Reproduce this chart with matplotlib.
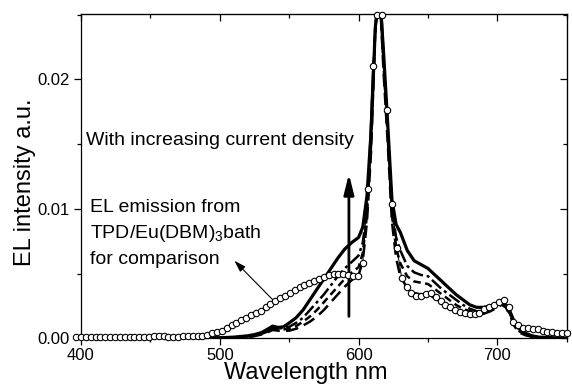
import numpy as np
import matplotlib
matplotlib.use("Agg")
import matplotlib.pyplot as plt
from matplotlib.ticker import MultipleLocator, FormatStrFormatter

plt.rcParams['font.family'] = ['Liberation Sans', 'DejaVu Sans']
plt.rcParams['mathtext.fontset'] = 'custom'
plt.rcParams['mathtext.rm'] = 'Liberation Sans'

# --- reference spectrum (open circles), intensity in units of 1e-3 ---
wl_ref = [396.5, 400, 403.5, 407, 410.5, 414, 417.5, 421, 424.5, 428,
          431.5, 435, 438.5, 442, 445.5, 449, 452.5, 456, 459.5, 463,
          466.5, 470, 473.5, 477, 480.5, 484, 487.5, 491, 494.5, 498,
          501.5, 505, 508.5, 512, 515.5, 519, 522.5, 526, 529.5, 533,
          536.5, 540, 543.5, 547, 550.5, 554, 557.5, 561, 564.5, 568,
          571.5, 575, 578.5, 582, 585.5, 589, 592.5, 596, 599.5, 603,
          606.5, 610, 613.5, 617, 620.5, 624, 627.5, 631, 634.5, 638,
          641.5, 645, 648.5, 652, 655.5, 659, 662.5, 666, 669.5, 673,
          676.5, 680, 683.5, 687, 690.5, 694, 697.5, 701, 704.5, 708,
          711.5, 715, 718.5, 722, 725.5, 729, 732.5, 736, 739.5, 743,
          746.5, 750]
el_ref = [0.1, 0.1, 0.1, 0.1, 0.1, 0.1, 0.1, 0.1, 0.1, 0.1,
          0.1, 0.1, 0.1, 0.1, 0.1, 0.1, 0.15, 0.15, 0.15, 0.1,
          0.1, 0.1, 0.15, 0.15, 0.15, 0.2, 0.2, 0.3, 0.4, 0.5,
          0.6, 0.8, 1.0, 1.2, 1.4, 1.6, 1.8, 1.95, 2.15, 2.4,
          2.65, 2.9, 3.1, 3.3, 3.5, 3.75, 4.0, 4.15, 4.3, 4.45,
          4.6, 4.75, 4.9, 4.95, 5.0, 5.0, 4.9, 4.8, 4.8, 5.8,
          11.5, 21.0, 25.0, 25.0, 17.6, 10.4, 7.0, 4.7, 4.0, 3.5,
          3.25, 3.3, 3.4, 3.5, 3.2, 2.9, 2.6, 2.4, 2.2, 2.05,
          1.95, 1.85, 1.85, 2.0, 2.25, 2.45, 2.6, 2.85, 3.0, 2.4,
          1.3, 1.0, 0.8, 0.8, 0.7, 0.7, 0.6, 0.5, 0.5, 0.45,
          0.45, 0.4]

# --- spectra at increasing current density (units of 1e-3) ---
wl = [400, 450, 500, 510, 520, 525, 530, 535, 538, 542, 546, 550, 555, 560,
      565, 570, 575, 580, 585, 590, 595, 600, 603, 606, 609, 612, 615, 618,
      621, 624, 627, 630, 635, 640, 645, 650, 655, 660, 665, 670, 675, 680,
      685, 690, 695, 700, 703, 706, 709, 712, 715, 720, 725, 730, 740, 750]
el_1 = [0.0, 0.0, 0.05, 0.1, 0.2, 0.3, 0.45, 0.75, 0.95, 0.85, 0.9, 1.2, 1.6, 2.2,
        3.0, 3.8, 4.6, 5.4, 6.2, 6.9, 7.4, 7.8, 8.6, 11.0, 16.0, 24.0, 27.0, 22.0,
        16.5, 10.7, 8.8, 8.2, 6.8, 6.0, 5.7, 5.4, 4.9, 4.4, 3.9, 3.4, 3.0, 2.6,
        2.4, 2.4, 2.5, 2.7, 2.8, 2.6, 2.1, 1.3, 0.8, 0.4, 0.2, 0.1, 0.05, 0.0]
el_2 = [0.0, 0.0, 0.05, 0.08, 0.15, 0.25, 0.4, 0.65, 0.85, 0.78, 0.8, 0.9, 1.2, 1.6,
        2.2, 2.8, 3.4, 4.1, 4.8, 5.4, 5.9, 6.4, 7.4, 10.0, 15.5, 24.0, 27.0, 21.5,
        16.0, 10.0, 7.8, 6.8, 5.6, 5.1, 4.9, 4.8, 4.3, 3.8, 3.4, 3.0, 2.6, 2.3,
        2.1, 2.1, 2.3, 2.6, 2.75, 2.5, 2.0, 1.2, 0.7, 0.3, 0.15, 0.1, 0.05, 0.0]
el_3 = [0.0, 0.0, 0.05, 0.07, 0.12, 0.2, 0.35, 0.55, 0.75, 0.7, 0.7, 0.75, 0.95, 1.3,
        1.7, 2.2, 2.8, 3.4, 4.0, 4.6, 5.1, 5.5, 6.6, 9.5, 15.0, 24.0, 27.0, 21.0,
        15.5, 9.5, 7.0, 5.8, 4.8, 4.4, 4.3, 4.2, 3.8, 3.4, 3.0, 2.6, 2.3, 2.1,
        2.0, 2.0, 2.2, 2.5, 2.7, 2.45, 1.9, 1.1, 0.6, 0.3, 0.15, 0.1, 0.05, 0.0]
el_4 = [0.0, 0.0, 0.05, 0.06, 0.1, 0.18, 0.3, 0.5, 0.65, 0.6, 0.58, 0.6, 0.75, 1.0,
        1.3, 1.7, 2.2, 2.8, 3.4, 4.0, 4.5, 4.9, 6.0, 9.0, 14.5, 24.0, 27.0, 20.5,
        15.0, 9.0, 6.2, 4.8, 3.9, 3.5, 3.4, 3.4, 3.1, 2.8, 2.4, 2.1, 1.9, 1.75,
        1.75, 1.9, 2.1, 2.4, 2.6, 2.4, 1.8, 1.0, 0.5, 0.25, 0.12, 0.08, 0.04, 0.0]

fig = plt.figure(figsize=(5.72, 3.89), dpi=100)
ax = fig.add_axes([0.1416, 0.130, 0.8494, 0.834])

scale = 1e-3
ax.plot(wl, np.array(el_1) * scale, color='k', lw=2.3, ls='-')
ax.plot(wl, np.array(el_2) * scale, color='k', lw=1.8, ls=(0, (5, 1.5, 1.2, 1.5)))
ax.plot(wl, np.array(el_3) * scale, color='k', lw=1.8, ls=(0, (3, 1.8)))
ax.plot(wl, np.array(el_4) * scale, color='k', lw=1.8, ls=(0, (5, 2.5)))
ax.plot(wl_ref, np.array(el_ref) * scale, color='k', lw=0.7, marker='o',
        ms=4.6, mfc='white', mec='k', mew=0.8, clip_on=False, zorder=5)

# arrows
ax.annotate('', xy=(593, 0.0127), xytext=(593, 0.0017),
            arrowprops=dict(arrowstyle='-|>,head_length=1.2,head_width=0.3',
                            mutation_scale=10, lw=2, color='k',
                            shrinkA=0, shrinkB=0))
ax.annotate('', xy=(510.5, 0.0060), xytext=(538, 0.0030),
            arrowprops=dict(arrowstyle='-|>,head_length=0.7,head_width=0.22',
                            mutation_scale=10, lw=0.8, color='k',
                            shrinkA=0, shrinkB=0))

ax.text(403.5, 0.01525, 'With increasing current density', fontsize=14,
        va='center', ha='left')
ax.text(406.3, 0.01008, 'EL emission from', fontsize=14, va='center', ha='left')
ax.text(406.3, 0.00807, r'TPD/Eu(DBM)$\mathregular{_3}$bath', fontsize=14,
        va='center', ha='left')
ax.text(406.3, 0.00606, 'for comparison', fontsize=14, va='center', ha='left')

ax.set_xlim(400, 750)
ax.set_ylim(0, 0.02505)

ax.xaxis.set_major_locator(MultipleLocator(100))
ax.xaxis.set_minor_locator(MultipleLocator(50))
ax.yaxis.set_major_locator(MultipleLocator(0.01))
ax.yaxis.set_minor_locator(MultipleLocator(0.005))
ax.yaxis.set_major_formatter(FormatStrFormatter('%.2f'))
ax.tick_params(which='major', length=5, width=0.9, labelsize=12, direction='out')
ax.tick_params(which='minor', length=3, width=0.9, direction='out')
ax.tick_params(axis='x', pad=2)
ax.tick_params(axis='y', pad=3)

# mirrored ticks pointing inwards on top / right
top = ax.secondary_xaxis('top')
top.xaxis.set_major_locator(MultipleLocator(100))
top.xaxis.set_minor_locator(MultipleLocator(50))
top.tick_params(which='major', direction='in', length=5, width=0.9, labeltop=False)
top.tick_params(which='minor', direction='in', length=3, width=0.9)
right = ax.secondary_yaxis('right')
right.yaxis.set_major_locator(MultipleLocator(0.01))
right.yaxis.set_minor_locator(MultipleLocator(0.005))
right.tick_params(which='major', direction='in', length=5, width=0.9, labelright=False)
right.tick_params(which='minor', direction='in', length=3, width=0.9)

for s in ax.spines.values():
    s.set_linewidth(0.9)

ax.set_xlabel('Wavelength nm', fontsize=17)
ax.set_ylabel('EL intensity a.u.', fontsize=17)
ax.xaxis.set_label_coords(0.463, -0.074)
ax.yaxis.set_label_coords(-0.093, 0.482)

fig.savefig('out.png', dpi=100)
